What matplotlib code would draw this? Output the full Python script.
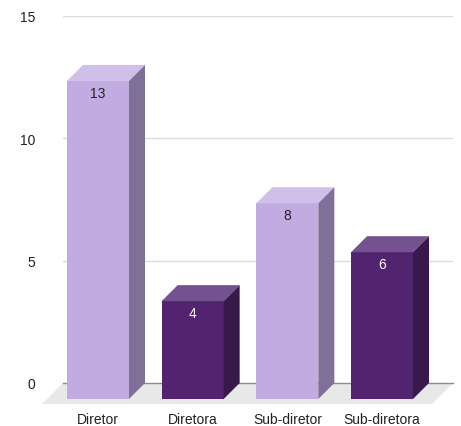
import matplotlib
matplotlib.use("Agg")
import matplotlib.pyplot as plt
from matplotlib.patches import Polygon, Rectangle

categories = ["Diretor", "Diretora", "Sub-diretor", "Sub-diretora"]
values = [13, 4, 8, 6]
y_ticks = [0, 5, 10, 15]

# face colours: (front, top, side)
light = ("#c1abe0", "#cfbfe9", "#7f7098")
dark = ("#52246f", "#73528f", "#37194b")
bar_styles = [light, dark, light, dark]
label_colors = ["#222222", "#ffffff", "#222222", "#ffffff"]

plt.rcParams["font.family"] = ["Liberation Sans", "DejaVu Sans"]

W, H, DPI = 461, 427, 100
fig = plt.figure(figsize=(W / DPI, H / DPI), dpi=DPI)
ax = fig.add_axes([63 / W, 43 / H, 390 / W, 367 / H])
ax.set_xlim(-0.5387, 3.581)
ax.set_ylim(0, 15)

# pixel -> data unit conversion for the pseudo-3D depth
px_x = 390 / (3.581 + 0.5387)
px_y = 367 / 15
dx = 16 / px_x
dy = 16 / px_y
fdx = 21 / px_x
fdy = 21 / px_y
bw = 62 / px_x

# gridlines and floor
for t in y_ticks[1:]:
    ax.axhline(t, color="#dcdcdc", lw=1, zorder=0)
x0, x1 = ax.get_xlim()
floor = Polygon([(x0, 0), (x1, 0), (x1 - fdx, -fdy), (x0 - fdx, -fdy)],
                closed=True, facecolor="#e8e8e8", edgecolor="none",
                clip_on=False, zorder=0.5)
ax.add_patch(floor)
ax.axhline(0, color="#8c8c8c", lw=1, zorder=0.6, clip_on=False)

for i, (v, st, lc) in enumerate(zip(values, bar_styles, label_colors)):
    front, top, side = st
    bl, br = i - bw / 2, i + bw / 2
    # front face
    ax.add_patch(Rectangle((bl - dx, -dy), bw, v, facecolor=front,
                           edgecolor="none", clip_on=False, zorder=2))
    # top face
    ax.add_patch(Polygon([(bl - dx, v - dy), (br - dx, v - dy), (br, v), (bl, v)],
                         closed=True, facecolor=top, edgecolor="none",
                         clip_on=False, zorder=2))
    # side face
    ax.add_patch(Polygon([(br - dx, -dy), (br, 0), (br, v), (br - dx, v - dy)],
                         closed=True, facecolor=side, edgecolor="none",
                         clip_on=False, zorder=2))
    ax.text(i - dx, v - dy - 12 / px_y, str(v), ha="center", va="center",
            fontsize=10, color=lc, zorder=3)

ax.set_xticks([i - dx for i in range(len(categories))])
ax.set_xticklabels(categories, fontsize=10, color="#222222")
ax.set_yticks(y_ticks)
ax.set_yticklabels([str(t) for t in y_ticks], fontsize=10, color="#222222")
ax.tick_params(axis="x", length=0, pad=21)
ax.tick_params(axis="y", length=0, pad=20)
for s in ax.spines.values():
    s.set_visible(False)

fig.savefig("out.png", dpi=DPI, facecolor="white")
